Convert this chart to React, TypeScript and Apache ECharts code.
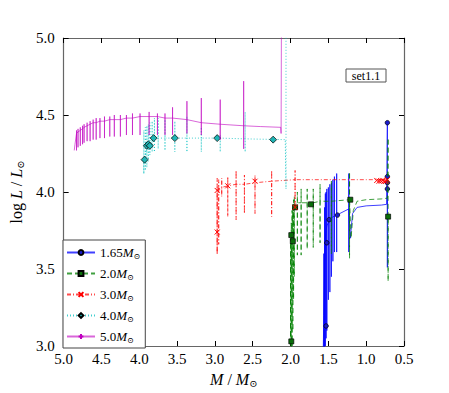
import React, { useEffect, useRef } from 'react';
import * as echarts from 'echarts';

const FONT = '"Liberation Serif", "DejaVu Serif", serif';

// axis ranges / tick labels (M decreasing to the right)
const xMin = 0.5;
const xMax = 5.0;
const xStep = 0.5;
const yMin = 3.0;
const yMax = 5.0;
const yStep = 0.5;

const seriesNames = ['1.65', '2.0', '3.0', '4.0', '5.0'];

// spikes: [M, base logL, low logL, high logL]
const head50: [number, number][] = [[4.86, 4.27], [4.85, 4.31]];
const spikes50: [number, number, number, number][] = [
  [4.83, 4.38, 4.27, 4.40], [4.81, 4.39, 4.29, 4.41], [4.78, 4.40, 4.30, 4.42],
  [4.75, 4.41, 4.31, 4.43], [4.73, 4.42, 4.32, 4.44], [4.69, 4.43, 4.33, 4.45],
  [4.65, 4.44, 4.33, 4.46], [4.61, 4.45, 4.34, 4.47], [4.57, 4.45, 4.34, 4.48],
  [4.52, 4.46, 4.35, 4.48], [4.46, 4.46, 4.35, 4.49], [4.39, 4.47, 4.36, 4.49],
  [4.33, 4.47, 4.36, 4.50], [4.25, 4.47, 4.36, 4.50], [4.17, 4.48, 4.37, 4.50],
  [4.09, 4.48, 4.37, 4.51], [3.99, 4.49, 4.37, 4.51], [3.87, 4.49, 4.37, 4.52],
  [3.76, 4.49, 4.37, 4.51], [3.66, 4.48, 4.37, 4.51], [3.56, 4.48, 4.37, 4.55],
  [3.37, 4.47, 4.38, 4.59], [3.18, 4.45, 4.37, 4.61], [2.93, 4.44, 4.34, 4.60],
  [2.62, 4.43, 4.28, 4.72],
];
const tail50: [number, number][] = [[2.40, 4.425], [2.13, 4.42], [2.125, 4.38], [2.12, 5.2]];
const marks50: [number, number][] = [];

const head40: [number, number][] = [[3.94, 4.12]];
const spikes40: [number, number, number, number][] = [
  [3.94, 4.20, 4.12, 4.40], [3.92, 4.24, 4.14, 4.42], [3.90, 4.28, 4.16, 4.43],
  [3.88, 4.30, 4.20, 4.44], [3.86, 4.31, 4.24, 4.45], [3.83, 4.33, 4.26, 4.46],
  [3.80, 4.35, 4.26, 4.48], [3.75, 4.35, 4.28, 4.48], [3.66, 4.35, 4.27, 4.47],
  [3.53, 4.35, 4.26, 4.46], [3.37, 4.35, 4.26, 4.49], [3.18, 4.35, 4.26, 4.42],
  [2.93, 4.35, 4.26, 4.37], [2.60, 4.345, 4.26, 4.52],
];
const tail40: [number, number][] = [[2.07, 4.34], [2.06, 4.02], [2.06, 5.2]];
const marks40: [number, number][] = [
  [3.93, 4.21], [3.90, 4.30], [3.88, 4.31], [3.86, 4.30], [3.81, 4.35],
  [3.53, 4.35], [2.97, 4.35], [2.23, 4.34],
];

const head30: [number, number][] = [[2.97, 3.60]];
const spikes30: [number, number, number, number][] = [
  [2.97, 4.00, 3.60, 4.09], [2.95, 4.01, 3.66, 4.08], [2.91, 4.03, 3.97, 4.09],
  [2.83, 4.04, 3.84, 4.10], [2.72, 4.05, 3.82, 4.14], [2.61, 4.05, 3.86, 4.11],
  [2.47, 4.06, 3.86, 4.11], [2.25, 4.07, 3.84, 4.14], [1.94, 4.08, 3.89, 4.14],
];
const tail30: [number, number][] = [[1.5, 4.08], [1.0, 4.08], [0.72, 4.08], [0.71, 4.06]];
const marks30: [number, number][] = [
  [2.97, 4.01], [2.97, 3.74], [2.83, 4.04], [2.47, 4.07], [1.94, 3.90],
  [0.86, 4.075], [0.83, 4.07], [0.80, 4.07], [0.78, 4.075], [0.76, 4.07], [0.74, 4.07], [0.72, 4.08],
];

const head20: [number, number][] = [[2.00, 2.90]];
const spikes20: [number, number, number, number][] = [
  [2.00, 3.40, 2.90, 3.70], [1.99, 3.60, 2.95, 3.80], [1.98, 3.75, 3.00, 3.88],
  [1.97, 3.85, 3.10, 3.92], [1.96, 3.90, 3.30, 3.95], [1.95, 3.92, 3.45, 3.97],
  [1.91, 3.93, 3.59, 4.00], [1.86, 3.93, 3.59, 4.02], [1.78, 3.93, 3.63, 4.02],
  [1.70, 3.93, 3.64, 4.02], [1.61, 3.94, 3.67, 4.05], [1.46, 3.94, 3.60, 4.07],
  [1.22, 3.95, 3.57, 4.13],
];
const tail20: [number, number][] = [
  [1.20, 3.70], [1.17, 3.88], [1.12, 3.94], [1.0, 3.95], [0.80, 3.955], [0.72, 3.96],
  [0.71, 4.35], [0.71, 3.42], [0.71, 3.84],
];
const marks20: [number, number][] = [
  [1.99, 3.03], [1.99, 3.72], [1.97, 3.68], [1.94, 3.90], [1.73, 3.92], [1.21, 3.95], [0.71, 3.84],
];

const head165: [number, number][] = [[1.57, 2.90]];
const spikes165: [number, number, number, number][] = [
  [1.56, 3.20, 2.90, 3.60], [1.55, 3.50, 2.95, 3.90], [1.54, 3.70, 3.00, 3.99],
  [1.53, 3.75, 3.05, 4.00], [1.52, 3.78, 3.10, 4.02], [1.50, 3.80, 3.30, 4.03],
  [1.48, 3.82, 3.35, 4.05], [1.46, 3.83, 3.45, 4.06], [1.44, 3.84, 3.55, 4.08],
  [1.42, 3.84, 3.61, 4.10], [1.39, 3.85, 3.61, 4.12], [1.23, 3.89, 3.61, 4.12],
];
const tail165: [number, number][] = [
  [1.21, 3.70], [1.18, 3.86], [1.12, 3.90], [1.0, 3.91], [0.80, 3.915], [0.73, 3.92],
  [0.72, 4.45], [0.72, 3.51], [0.72, 4.02],
];
const marks165: [number, number][] = [
  [1.53, 3.13], [1.52, 3.67], [1.49, 3.82], [1.38, 3.85],
  [0.72, 4.45], [0.72, 4.10], [0.72, 4.06], [0.72, 4.02],
];

function track(head: [number, number][], spikes: [number, number, number, number][], tail: [number, number][]) {
  const out: [number, number][] = [...head];
  spikes.forEach(([m, b, lo, hi]) => {
    out.push([m, b], [m, hi], [m, lo], [m, b]);
  });
  return out.concat(tail);
}

const X_SYM = 'path://M0,0L10,10M0,10L10,0';
const PLUS_SYM = 'path://M5,0L5,10M0,5L10,5';

const styles = [
  { line: '#0000ff', dash: 'solid', sym: 'circle', size: 4.5, fill: '#1a1acc', border: '#000', bw: 0.7, op: 0.75 },
  { line: '#008000', dash: [5, 3], sym: 'rect', size: 5, fill: '#0a6e0a', border: '#000', bw: 0.7, op: 0.75 },
  { line: '#ff0000', dash: [4, 2, 1, 2], sym: X_SYM, size: 5, fill: '#ff0000', border: '#ff0000', bw: 1, op: 0.7 },
  { line: '#00bfbf', dash: [1, 2], sym: 'diamond', size: 7, fill: '#1fb5b5', border: '#000', bw: 0.7, op: 0.75 },
  { line: '#bf00bf', dash: 'solid', sym: PLUS_SYM, size: 5, fill: '#bf00bf', border: '#bf00bf', bw: 1, op: 0.6 },
];

const tracks = [
  track(head165, spikes165, tail165),
  track(head20, spikes20, tail20),
  track(head30, spikes30, tail30),
  track(head40, spikes40, tail40),
  track(head50, spikes50, tail50),
];
const marks = [marks165, marks20, marks30, marks40, marks50];

const rich = {
  it: { fontStyle: 'italic', fontFamily: FONT, fontSize: 13, color: '#000', lineHeight: 15 },
  sub: { fontFamily: FONT, fontSize: 8, color: '#000', verticalAlign: 'bottom', lineHeight: 11 },
};
const richAxis = {
  it: { fontStyle: 'italic', fontFamily: FONT, fontSize: 16, color: '#000', lineHeight: 18 },
  rm: { fontFamily: FONT, fontSize: 16, color: '#000', lineHeight: 18 },
  sub: { fontFamily: FONT, fontSize: 10, color: '#000', verticalAlign: 'bottom', lineHeight: 12 },
};

export default function App() {
  const ref = useRef<HTMLDivElement>(null);
  useEffect(() => {
    if (!ref.current) return;
    const chart = echarts.init(ref.current, null, { renderer: 'svg' });
    const series: any[] = [];
    seriesNames.forEach((name, i) => {
      const s = styles[i];
      series.push({
        name,
        type: 'line',
        data: tracks[i],
        showSymbol: false,
        symbol: s.sym,
        symbolSize: s.size,
        lineStyle: { color: s.line, width: 1, type: s.dash as any, opacity: s.op },
        itemStyle: { color: s.fill, borderColor: s.border, borderWidth: s.bw },
        z: 2 + i,
        silent: true,
      });
      series.push({
        name: name + ' marks',
        type: 'scatter',
        data: marks[i],
        symbol: s.sym,
        symbolSize: s.size,
        itemStyle: { color: s.fill, borderColor: s.border, borderWidth: s.bw, opacity: 1 },
        z: 2 + i,
        silent: true,
      });
    });
    const axisLine = { show: true, lineStyle: { color: '#666', width: 1.2 } };
    const tick = { show: true, inside: true, length: 5, lineStyle: { color: '#000', width: 1 } };
    chart.setOption({
      animation: false,
      grid: { left: 56, right: 45, top: 38, bottom: 40, containLabel: false },
      xAxis: [
        {
          type: 'value', min: xMin, max: xMax, interval: xStep, inverse: true,
          axisLine, axisTick: tick, splitLine: { show: false },
          axisLabel: { fontFamily: FONT, fontSize: 15, color: '#000', margin: 5, formatter: (v: number) => v.toFixed(1) },
          name: '{it|M} {rm|/} {it|M}{sub|⊙}', nameLocation: 'middle', nameGap: 24,
          nameTextStyle: { fontFamily: FONT, fontSize: 16, color: '#000', rich: richAxis },
        },
        {
          type: 'value', min: xMin, max: xMax, interval: xStep, inverse: true, position: 'top',
          axisLine, axisTick: tick, axisLabel: { show: false }, splitLine: { show: false },
        },
      ],
      yAxis: [
        {
          type: 'value', min: yMin, max: yMax, interval: yStep,
          axisLine, axisTick: tick, splitLine: { show: false },
          axisLabel: { fontFamily: FONT, fontSize: 15, color: '#000', margin: 9, formatter: (v: number) => v.toFixed(1) },
          name: '{rm|log} {it|L} {rm|/} {it|L}{sub|⊙}', nameLocation: 'middle', nameGap: 32,
          nameTextStyle: { fontFamily: FONT, fontSize: 16, color: '#000', rich: richAxis },
        },
        {
          type: 'value', min: yMin, max: yMax, interval: yStep, position: 'right',
          axisLine, axisTick: tick, axisLabel: { show: false }, splitLine: { show: false },
        },
      ],
      legend: {
        data: seriesNames,
        orient: 'vertical',
        left: 63,
        top: 240,
        itemWidth: 28,
        itemHeight: 6,
        itemGap: 6,
        padding: [5, 5, 4, 3],
        borderColor: '#444',
        borderWidth: 1,
        backgroundColor: '#fff',
        formatter: (n: string) => `${n}{it|M}{sub|⊙}`,
        textStyle: { fontFamily: FONT, fontSize: 13, color: '#000', lineHeight: 15, rich },
      },
      graphic: [
        { type: 'rect', shape: { x: 346, y: 69, width: 40, height: 13 }, style: { fill: '#fff', stroke: '#555', lineWidth: 1 }, z: 10 },
        { type: 'text', x: 366, y: 75.5, style: { text: 'set1.1', fontFamily: FONT, fontSize: 12, fill: '#000', align: 'center', verticalAlign: 'middle' }, z: 11 },
      ],
      series,
    });
    return () => chart.dispose();
  }, []);
  return <div ref={ref} style={{ position: 'fixed', left: 0, top: 0, width: 449, height: 393, background: '#fff' }} />;
}
